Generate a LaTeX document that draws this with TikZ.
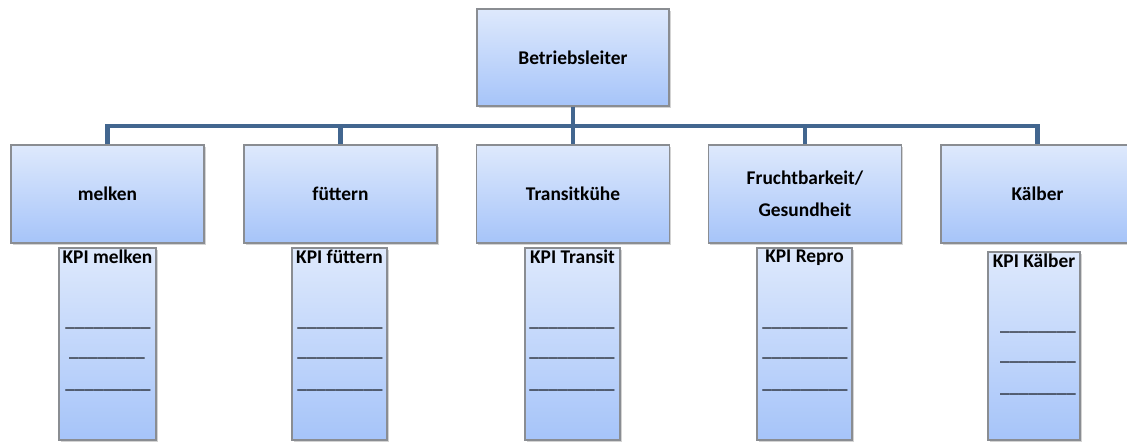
\documentclass[tikz,border=0pt]{standalone}
\usepackage{fontspec}
\setmainfont{Carlito}
\usepackage{tikz}
\usetikzlibrary{shadows}
\definecolor{boxtop}{HTML}{DEE9FC}
\definecolor{boxbot}{HTML}{A6C4F9}
\definecolor{boxline}{HTML}{8A8D92}
\definecolor{busline}{HTML}{42668F}

\tikzset{
    box/.style={draw=boxline, line width=1pt, top color=boxtop, bottom color=boxbot,
        drop shadow={shadow xshift=1.2pt, shadow yshift=-1.2pt, opacity=0.35},
        align=center, font=\fontsize{13.8}{22.5}\selectfont\bfseries, inner sep=0pt},
    kpibox/.style={draw=boxline, line width=1pt, top color=boxtop, bottom color=boxbot,
        drop shadow={shadow xshift=1.2pt, shadow yshift=-1.2pt, opacity=0.35}, inner sep=0pt},
    kpititle/.style={anchor=north, inner sep=0pt, font=\fontsize{13.8}{16}\selectfont\bfseries},
    blank/.style={anchor=base, inner sep=0pt, font=\fontsize{13.5}{16}\selectfont},
    bus/.style={draw=busline, line width=3pt}
}

\begin{document}
\begin{tikzpicture}[x=0.025cm, y=-0.025cm]
    \clip (0,0) rectangle (1127,444);

    % leiter
    \node[box, minimum width=4.8cm, minimum height=2.425cm] (boss) at (573,57.5) {Betriebsleiter};

    % bereiche
    \node[box, minimum width=4.825cm, minimum height=2.45cm] (melken) at (107.5,194) {melken};
    \node[box, minimum width=4.825cm, minimum height=2.45cm] (fuettern) at (340.5,194) {füttern};
    \node[box, minimum width=4.825cm, minimum height=2.45cm] (transit) at (573,194) {Transitkühe};
    \node[box, minimum width=4.825cm, minimum height=2.45cm] (frucht) at (805,194) {Fruchtbarkeit/\\Gesundheit};
    \node[box, minimum width=4.825cm, minimum height=2.45cm] (kaelber) at (1037.5,194) {Kälber};

    % linien
    \coordinate (bus) at (573,126);
    \draw[bus] (boss.south) -- (transit.north);
    \draw[bus] (melken.north) |- (bus) -| (kaelber.north);
    \draw[bus] (fuettern.north) -- (fuettern.north |- bus);
    \draw[bus] (frucht.north) -- (frucht.north |- bus);

    % kpi
    \node[kpibox, minimum width=2.425cm, minimum height=4.8cm] (kpimelken) at (107.5,344) {};
    \node[kpibox, minimum width=2.375cm, minimum height=4.8cm] (kpifuettern) at (339.5,344) {};
    \node[kpibox, minimum width=2.375cm, minimum height=4.8cm] (kpitransit) at (572.5,344) {};
    \node[kpibox, minimum width=2.375cm, minimum height=4.8cm] (kpirepro) at (804.5,344) {};
    \node[kpibox, minimum width=2.3cm, minimum height=4.7cm] (kpikaelber) at (1034,346) {};

    \node[kpititle] (tmelken) at ([yshift=-2pt]kpimelken.north) {KPI melken};
    \node[kpititle] (tfuettern) at ([yshift=-2pt]kpifuettern.north) {KPI füttern};
    \node[kpititle] (ttransit) at ([yshift=-2pt]kpitransit.north) {KPI Transit};
    \node[kpititle] (trepro) at ([yshift=-2pt]kpirepro.north) {KPI Repro};
    \node[kpititle] (tkaelber) at ([yshift=-2pt]kpikaelber.north) {KPI Kälber};

    \node[blank] (m1) at (108,327) {\_\_\_\_\_\_\_\_\_};
    \node[blank] (m2) at (107,357) {\_\_\_\_\_\_\_\_};
    \node[blank] (m3) at (108,389) {\_\_\_\_\_\_\_\_\_};
    \node[blank] (f1) at (340,327) {\_\_\_\_\_\_\_\_\_};
    \node[blank] (f2) at (340,357) {\_\_\_\_\_\_\_\_\_};
    \node[blank] (f3) at (340,389) {\_\_\_\_\_\_\_\_\_};
    \node[blank] (t1) at (572,327) {\_\_\_\_\_\_\_\_\_};
    \node[blank] (t2) at (572,357) {\_\_\_\_\_\_\_\_\_};
    \node[blank] (t3) at (572,389) {\_\_\_\_\_\_\_\_\_};
    \node[blank] (r1) at (805,327) {\_\_\_\_\_\_\_\_\_};
    \node[blank] (r2) at (805,357) {\_\_\_\_\_\_\_\_\_};
    \node[blank] (r3) at (805,389) {\_\_\_\_\_\_\_\_\_};
    \node[blank] (k1) at (1038,331) {\_\_\_\_\_\_\_\_};
    \node[blank] (k2) at (1038,361) {\_\_\_\_\_\_\_\_};
    \node[blank] (k3) at (1038,393) {\_\_\_\_\_\_\_\_};
\end{tikzpicture}
\end{document}
